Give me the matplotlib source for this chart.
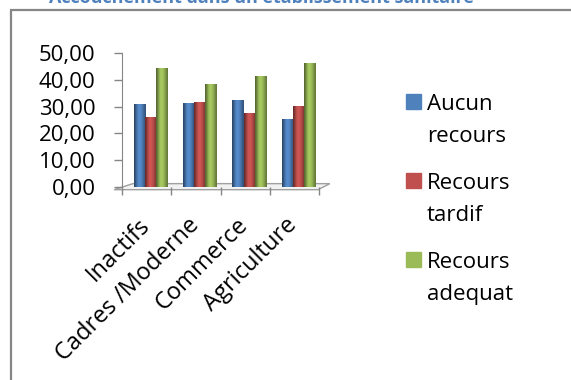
import matplotlib.pyplot as plt
import matplotlib.transforms as mtransforms
import numpy as np
from matplotlib.patches import Rectangle, Polygon

plt.rcParams['font.family'] = ['Open Sans', 'DejaVu Sans']

titre = "Accouchement dans un établissement sanitaire"
categories = ["Inactifs", "Cadres /Moderne", "Commerce", "Agriculture"]
series = ["Aucun\nrecours", "Recours\ntardif", "Recours\nadequat"]
aucun = [31.0, 31.5, 32.6, 25.2]
tardif = [26.0, 31.8, 27.7, 30.2]
adequat = [44.5, 38.5, 41.5, 46.2]
yticks = [0, 10, 20, 30, 40, 50]

couleurs = ["#4F81BD", "#C0504D", "#9BBB59"]
W, H = 571, 380

fig = plt.figure(figsize=(W / 100, H / 100), dpi=100)
ax = fig.add_axes([122 / W, 1 - 187 / H, (319 - 122) / W, (187 - 53) / H])

# cadre du graphique (coupe par le bord de l'image)
fig.patches.append(Rectangle((11 / W, -0.1), 2.0, 1 - 10 / H + 0.1,
                             transform=fig.transFigure, fill=False,
                             edgecolor="#868686", linewidth=1.6))
fig.text(261 / W, 1 - 3 / H, titre, ha="center", va="baseline",
         fontsize=13, fontweight="bold", color="#4F81BD")

x = np.arange(len(categories))
larg = 0.225
for k, (vals, col) in enumerate(zip([aucun, tardif, adequat], couleurs)):
    bars = ax.bar(x + 0.08 + (k - 1) * larg, vals, width=larg, color=col,
                  edgecolor="none", zorder=3)
    # effet cylindre
    c = np.array(plt.matplotlib.colors.to_rgb(col))
    prof = np.array([0.55, 0.8, 1.0, 1.1, 1.05, 0.95, 0.8, 0.65])
    grad = np.clip(c[None, :] * prof[:, None], 0, 1)[None, :, :]
    for b in bars:
        x0, w, h = b.get_x(), b.get_width(), b.get_height()
        im = ax.imshow(grad, extent=[x0, x0 + w, 0, h], aspect="auto",
                       interpolation="bicubic", zorder=4)
        im.set_clip_path(b)

ax.set_xlim(-0.5, len(categories) - 0.5)
ax.set_ylim(0, 50)
ax.set_yticks(yticks)
ax.set_yticklabels([f"{v:.2f}".replace(".", ",") for v in yticks])
ax.set_xticks(x)
ax.set_xticklabels(categories, rotation=45, ha="right", rotation_mode="anchor")
ax.set_xticks(np.arange(len(categories) + 1) - 0.5, minor=True)
ax.tick_params(axis="x", which="major", length=0, pad=19, labelsize=17)
ax.tick_params(axis="x", which="minor", length=6, width=1, color="#868686")
ax.tick_params(axis="y", length=6, width=1, color="#868686", pad=13, labelsize=16)
decal = mtransforms.ScaledTranslation(-9 / 100, 0, fig.dpi_scale_trans)
for lab in ax.get_xticklabels():
    lab.set_transform(lab.get_transform() + decal)

for s in ["top", "right", "bottom"]:
    ax.spines[s].set_visible(False)
ax.spines["left"].set_color("#868686")

# sol en perspective
sol = Polygon([(-0.04, -0.02), (0.995, -0.02), (1.055, 0.025), (0.055, 0.025)],
              closed=True, transform=ax.transAxes, facecolor="#f2f2f2",
              edgecolor="#a0a0a0", linewidth=1, clip_on=False, zorder=1)
ax.add_patch(sol)

# legende
ly = [94, 173, 252]
for nom, col, y in zip(series, couleurs, ly):
    fig.patches.append(Rectangle((406 / W, 1 - (y + 15) / H), 15 / W, 15 / H,
                                 transform=fig.transFigure, color=col))
    for j, ligne in enumerate(nom.split("\n")):
        fig.text(427 / W, 1 - (y + 16 + j * 32) / H, ligne, ha="left",
                 va="baseline", fontsize=16)

fig.savefig("out.png", dpi=100)
